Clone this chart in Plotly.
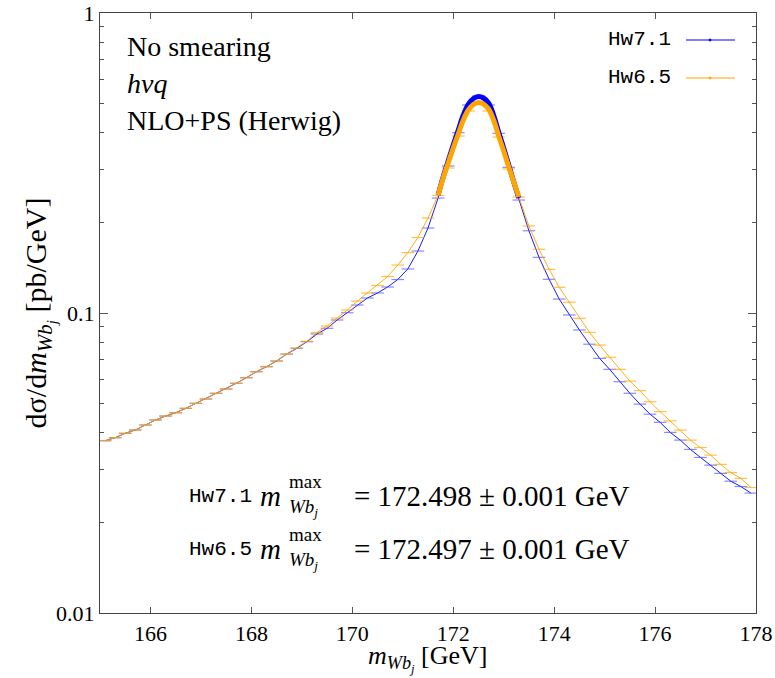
import plotly.graph_objects as go

# ---------------- data ----------------
m_bins = [round(165.1 + 0.2 * i, 1) for i in range(65)]

hw71 = [0.03752, 0.03840, 0.03972, 0.04074, 0.04233, 0.04398, 0.04535, 0.04652, 0.04811, 0.05000,
        0.05168, 0.05399, 0.05580, 0.05830, 0.06086, 0.06372, 0.06622, 0.06918, 0.07299, 0.07626,
        0.08023, 0.08511, 0.08892, 0.09477, 0.1002, 0.1063, 0.1122, 0.1166, 0.1221, 0.1293,
        0.1402, 0.1609, 0.1920, 0.2416, 0.3090, 0.3990, 0.4936, 0.5289, 0.4936, 0.3972,
        0.3059, 0.2380, 0.1880, 0.1533, 0.1295, 0.1113, 0.0985, 0.0878, 0.0787, 0.0706,
        0.0649, 0.0590, 0.0540, 0.0497, 0.0460, 0.0432, 0.0400, 0.0377, 0.0351, 0.0330,
        0.0311, 0.0292, 0.0275, 0.0264, 0.0251]

hw65 = [0.03752, 0.03840, 0.03972, 0.04074, 0.04233, 0.04398, 0.04535, 0.04652, 0.04811, 0.05000,
        0.05168, 0.05399, 0.05580, 0.05830, 0.06086, 0.06372, 0.06622, 0.06918, 0.07299, 0.07640,
        0.08050, 0.0861, 0.0905, 0.0962, 0.1023, 0.1096, 0.1166, 0.1235, 0.1323, 0.1445,
        0.1590, 0.1785, 0.2073, 0.2464, 0.3043, 0.3890, 0.4714, 0.5050, 0.4714, 0.3861,
        0.3020, 0.2435, 0.1950, 0.1631, 0.1398, 0.1218, 0.1086, 0.0960, 0.0862, 0.0782,
        0.0712, 0.0649, 0.0593, 0.0551, 0.0506, 0.0469, 0.0437, 0.0407, 0.0377, 0.0356,
        0.0336, 0.0313, 0.0294, 0.0281, 0.0262]

m_peak = [round(171.7 + 0.1 * i, 1) for i in range(17)]
hw71_peak = [0.2473, 0.2840, 0.3211, 0.3631, 0.4074, 0.4571, 0.4972, 0.5188, 0.5268,
             0.5207, 0.5012, 0.4571, 0.4012, 0.3548, 0.3114, 0.2733, 0.2416]
hw65_peak = [0.2473, 0.2818, 0.3162, 0.3548, 0.3951, 0.4399, 0.4750, 0.4955, 0.5031,
             0.4972, 0.4786, 0.4399, 0.3890, 0.3467, 0.3066, 0.2733, 0.2435]

x_ticks = [166, 168, 170, 172, 174, 176, 178]
y_ticks = [0.01, 0.1, 1]
y_ticktext = ["0.01", "0.1", "1"]
y_minor = [k * 10 ** e for e in (-2, -1) for k in range(2, 10)]

BLUE = "#0000ff"
ORANGE = "#ffa500"
SERIF = "Liberation Serif"
MONO = "Liberation Mono"

fig = go.Figure()

fig.add_trace(go.Scatter(x=m_bins, y=hw71, mode="lines+markers",
                         line=dict(color=BLUE, width=0.9),
                         marker=dict(symbol="line-ew", size=9,
                                     line=dict(color="rgba(60,60,255,0.6)", width=1.2)),
                         showlegend=False))
fig.add_trace(go.Scatter(x=m_bins, y=hw65, mode="lines+markers",
                         line=dict(color=ORANGE, width=0.9),
                         marker=dict(symbol="line-ew", size=9,
                                     line=dict(color="rgba(255,165,0,0.7)", width=1.2)),
                         showlegend=False))
fig.add_trace(go.Scatter(x=m_peak, y=hw71_peak, mode="lines",
                         line=dict(color=BLUE, width=5, shape="spline"),
                         showlegend=False))
fig.add_trace(go.Scatter(x=m_peak, y=hw65_peak, mode="lines",
                         line=dict(color=ORANGE, width=5, shape="spline"),
                         showlegend=False))

W, H = 775, 678
L, R, T, B = 100, 19, 13, 65
pw, ph = W - L - R, H - T - B


def px(x):
    return (x - L) / pw


def py(y):
    return 1 - (y - T) / ph


def ann(x, y, text, size, family=SERIF, xanchor="left", align="left"):
    return dict(x=px(x), y=py(y), xref="paper", yref="paper", text=text,
                showarrow=False, xanchor=xanchor, yanchor="middle", align=align,
                font=dict(family=family, size=size, color="black"))


annotations = []
# top-left labels
annotations.append(ann(125, 46, "No smearing", 28))
annotations.append(ann(125, 84, "<i>hvq</i>", 28))
annotations.append(ann(125, 121, "NLO+PS (Herwig)", 28))

# legend (text left, sample right)
shapes = []
for name, col, yc in [("Hw7.1", BLUE, 39), ("Hw6.5", ORANGE, 77)]:
    annotations.append(ann(673, yc, name, 21, family=MONO, xanchor="right"))
    shapes.append(dict(type="line", xref="paper", yref="paper",
                       x0=px(686), x1=px(735), y0=py(yc + 1), y1=py(yc + 1),
                       line=dict(color=col, width=1)))
    shapes.append(dict(type="circle", xref="paper", yref="paper",
                       x0=px(709), x1=px(711), y0=py(yc + 2), y1=py(yc),
                       line=dict(color=col, width=1), fillcolor=col))

# results text
for name, val, yc in [("Hw7.1", "172.498", 496), ("Hw6.5", "172.497", 549)]:
    annotations.append(ann(187, yc, name, 21, family=MONO))
    annotations.append(ann(258, yc, "<i>m</i>", 29))
    annotations.append(ann(287, yc - 1, "max<br><i>Wb<sub>j</sub></i>", 19))
    annotations.append(ann(352, yc, f"= {val} ± 0.001 GeV", 29))

# x axis title
annotations.append(ann(428, 658, "<i>m</i><sub><i>Wb<sub>j</sub></i></sub> [GeV]", 26,
                       xanchor="center", align="center"))

fig.update_layout(
    width=W, height=H,
    margin=dict(l=L, r=R, t=T, b=B, autoexpand=False),
    paper_bgcolor="white", plot_bgcolor="white",
    annotations=annotations, shapes=shapes,
    showlegend=False,
    xaxis=dict(range=[165, 178], tickvals=x_ticks, ticks="inside", ticklen=6,
               tickcolor="#555", showline=True, linecolor="#444", linewidth=1.2,
               mirror="allticks", showgrid=False, zeroline=False, automargin=False,
               tickfont=dict(family=SERIF, size=22, color="black")),
    yaxis=dict(type="log", range=[-2, 0], tickvals=y_ticks, ticktext=y_ticktext,
               ticks="inside", ticklen=8, tickcolor="#555",
               minor=dict(tickvals=y_minor, ticks="inside", ticklen=4, tickcolor="#555"),
               showline=True, linecolor="#444", linewidth=1.2, mirror="allticks",
               showgrid=False, zeroline=False, automargin=False,
               tickfont=dict(family=SERIF, size=22, color="black"),
               title=dict(text="dσ/d<i>m</i><sub><i>Wb<sub>j</sub></i></sub> [pb/GeV]",
                          font=dict(family=SERIF, size=30, color="black"), standoff=0)),
)

fig.write_html("out.html")
